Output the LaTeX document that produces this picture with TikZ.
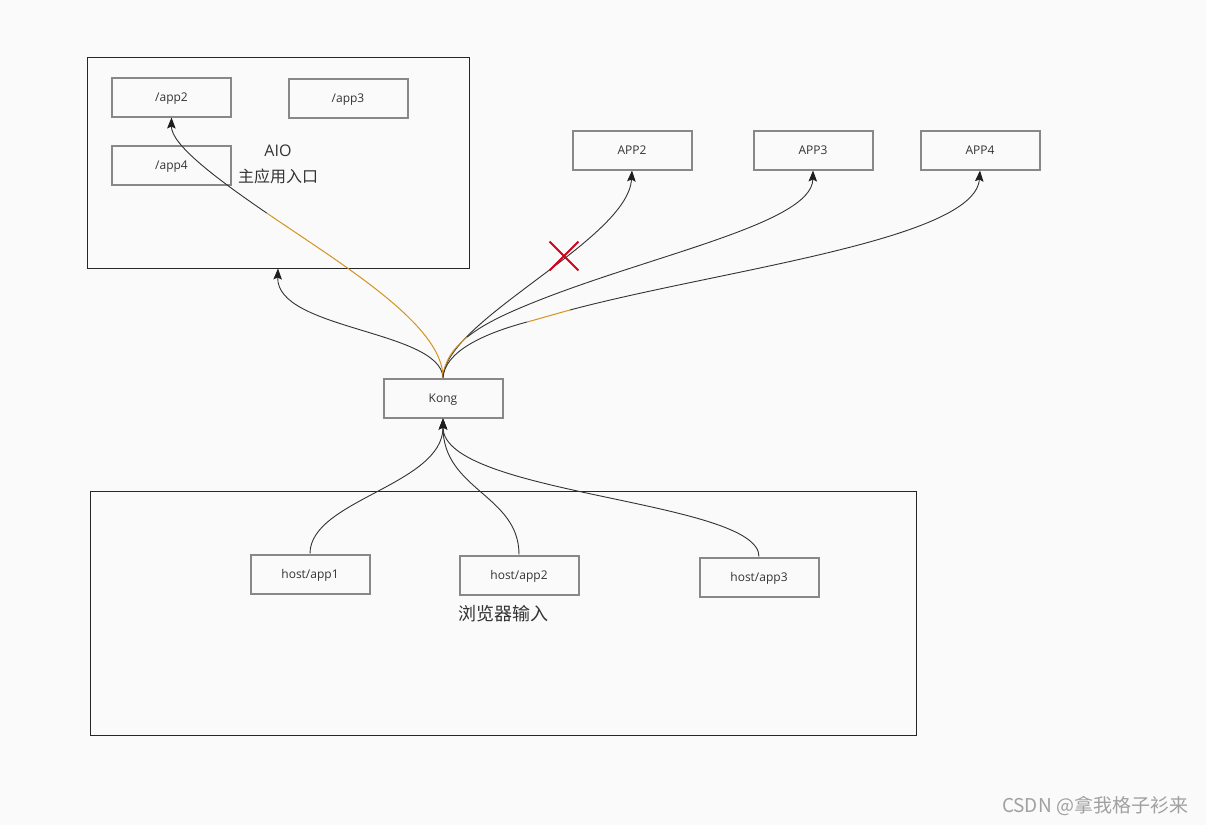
\documentclass[tikz,border=0pt]{standalone}
\usepackage{fontspec}
\setmainfont{Open Sans}
\newfontfamily\cjk{Noto Sans CJK SC}
\usetikzlibrary{arrows.meta,shapes.misc}
\definecolor{bg}{HTML}{FAFAFA}
\definecolor{boxgray}{HTML}{888888}
\definecolor{ink}{HTML}{333333}
\definecolor{tip}{HTML}{1E1E1E}
\definecolor{hl}{HTML}{D4931F}
\definecolor{xred}{HTML}{D0021B}
\definecolor{wm}{HTML}{A0A0A0}
\begin{document}
\begin{tikzpicture}[x=1pt,y=-1pt,
  appbox/.style={draw=boxgray, line width=2pt, minimum width=119pt, minimum height=39pt, inner sep=0pt, text depth=0.5pt, font=\fontsize{12}{14}\selectfont, text=ink},
  frame/.style={draw=black!85, line width=1pt, inner sep=0pt},
  conn/.style={draw=ink, line width=0.9pt},
  arr/.style={-{Stealth[length=11pt,width=8.5pt,inset=2pt,color=tip]}},
  hi/.style={draw=hl, line width=1pt},
  lbl/.style={text=ink, inner sep=0pt}]
\fill[bg] (0,0) rectangle (1206,825);
\useasboundingbox (0,0) rectangle (1206,825);

% frames
\node[frame, minimum width=382pt, minimum height=211pt] (aio) at (278,162.5) {};
\node[frame, minimum width=826pt, minimum height=244pt] (browser) at (503,613) {};

% AIO content
\node[appbox] (app2s) at (171.5,97) {/app2};
\node[appbox] (app3s) at (348,98) {/app3};
\node[appbox] (app4s) at (171.5,165) {/app4};
\node[lbl, font=\fontsize{16}{18}\selectfont] (aiot) at (278,151) {AIO};
\node[lbl, font=\cjk\fontsize{16}{18}\selectfont] (aiot2) at (278,176) {主应用入口};

% apps
\node[appbox] (APP2) at (632,150) {APP2};
\node[appbox] (APP3) at (813,150) {APP3};
\node[appbox] (APP4) at (980,150) {APP4};

% kong
\node[appbox] (kong) at (443,398) {Kong};

% hosts
\node[appbox] (h1) at (310,574) {host/app1};
\node[appbox] (h2) at (519,575) {host/app2};
\node[appbox] (h3) at (759,577) {host/app3};
\node[lbl, font=\cjk\fontsize{18}{20}\selectfont] (bt) at (503,614) {浏览器输入};

% Kong -> AIO
\draw[conn,arr] (kong.north) .. controls (440,330) and (276,330) .. (aio.south);

% Kong -> /app2 (highlighted first part)
\coordinate (a2s) at (266.5,212.9);
\draw[hi] (kong.north) .. controls (443,325.2) and (344.7,266.3) .. (a2s);
\draw[conn,arr] (a2s) .. controls (214.4,177.3) and (171.2,144.2) .. (app2s.south);

% Kong -> APP2
\draw[conn,arr] (kong.north) .. controls (445,320) and (628,240) .. (APP2.south);
\node[cross out, draw=xred, line width=1.8pt, minimum size=27pt, inner sep=0pt] (nox) at (564,256) {};

% Kong -> APP3
\coordinate (c1) at (467.25,337);
\coordinate (c2) at (520,308);
\draw[hi] (kong.north) .. controls (444,361.5) and (453.25,348.25) .. (c1);
\draw[conn,arr] (c1) .. controls (481.25,325.75) and (500,316.5) .. (c2)
   .. controls (640,257) and (812,225) .. (APP3.south);

% Kong -> APP4
\coordinate (d1) at (527,322);
\coordinate (d2) at (570,310);
\draw[conn] (kong.north) .. controls (445,352) and (482,334) .. (d1);
\draw[hi] (d1) .. controls (541,318.3) and (555,314) .. (d2);
\draw[conn,arr] (d2) .. controls (720,270) and (975,240) .. (APP4.south);

% hosts -> Kong
\draw[conn,arr] (h1.north) .. controls (310,500) and (443,485) .. (kong.south);
\draw[conn,arr] (h2.north) .. controls (519,495) and (443,490) .. (kong.south);
\draw[conn,arr] (h3.north) .. controls (759,500) and (443,495) .. (kong.south);

% watermark
\node[text=wm, inner sep=0pt, font=\cjk\fontsize{19}{22}\selectfont] (wmk) at (1095,806) {CSDN @拿我格子衫来};
\end{tikzpicture}
\end{document}
